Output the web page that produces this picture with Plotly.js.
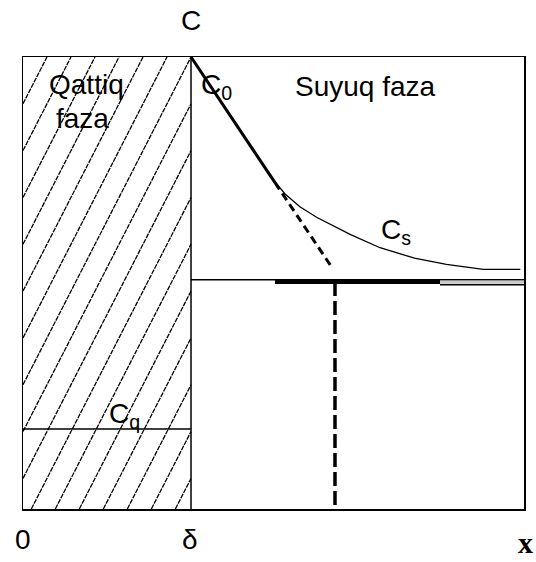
<!DOCTYPE html>
<html>
<head>
<meta charset="utf-8">
<script src="https://cdn.plot.ly/plotly-3.0.1.min.js"></script>
<style>
  html, body { margin: 0; padding: 0; background: #fff; }
  #chart { width: 536px; height: 562px; }
</style>
</head>
<body>
<div id="chart"></div>
<script>
// Concentration profile near the solid/liquid boundary.
// x: distance (boundary layer thickness delta = 1), y: concentration (C0 = 1).
const delta = 1;
const xMax = 2.982;

// Cs curve in the liquid phase
const csX = [1.00, 1.25, 1.47, 1.56, 1.65, 1.75, 1.95, 2.125, 2.33, 2.52, 2.74, 2.96];
const csY = [1.000, 0.862, 0.737, 0.697, 0.668, 0.645, 0.607, 0.578, 0.555, 0.541, 0.530, 0.530];

// Tangent at the boundary (solid part, then dashed)
const tangentSolidX = [1.00, 1.50];
const tangentSolidY = [1.000, 0.722];
const tangentDashX = [1.50, 1.845];
const tangentDashY = [0.722, 0.531];

// Bulk concentration level and its marked segments
const bulkLevel = 0.507;
const bulkThickX = [1.50, 2.482];
const bulkThickY = [0.502, 0.502];
const bulkLowerX = [2.482, xMax];
const bulkLowerY = [0.496, 0.496];

// Vertical projection of the tangent crossing
const projX = [1.857, 1.857];
const projY = [0.502, 0.0];

// Cq level inside the solid phase
const cqLevel = 0.177;

const line = (x, y, width, dash, color) => ({
  type: 'scatter', mode: 'lines', x, y, hoverinfo: 'skip', showlegend: false,
  line: { color: color || '#000', width, dash: dash || 'solid' }
});

// Hatching of the solid phase: parallel slanted lines clipped to [0, delta] x [0, 1]
const hatchSlope = 0.725;     // dy/dx in data units
const hatchStep = 0.1429;     // spacing along the top edge
const hatchTraces = [];
for (let k = -12; k < 12; k++) {
  const xt = delta - k * hatchStep;     // where the line meets y = 1 (extended)
  // y = 1 + slope * (x - xt)
  const x0 = Math.max(0, xt - 1 / hatchSlope);
  const x1 = Math.min(delta, xt);
  if (x1 - x0 < 1e-6) continue;
  const y0 = 1 + hatchSlope * (x0 - xt);
  const y1 = 1 + hatchSlope * (x1 - xt);
  hatchTraces.push(line([x0, x1], [y0, y1], 1.3, '5px,1px', '#000'));
}

const traces = [
  ...hatchTraces,
  line([0, delta], [cqLevel, cqLevel], 1.5),
  line([delta, delta], [0, 1], 1.5),
  line([delta, xMax], [bulkLevel, bulkLevel], 1.5),
  line(bulkLowerX, [0.5015, 0.5015], 3, 'solid', '#c8c8c8'),
  line(bulkLowerX, bulkLowerY, 1.5),
  line(bulkThickX, bulkThickY, 4),
  line(csX, csY, 1.3),
  line(tangentSolidX, tangentSolidY, 3),
  line(tangentDashX, tangentDashY, 3, '8px,5px'),
  line(projX, projY, 3.5, '14px,5px')
];

const font = { family: 'Liberation Sans, Arial, sans-serif', size: 28, color: '#000' };
const narrow = Object.assign({}, font, { family: 'Liberation Sans Narrow, Liberation Sans, sans-serif' });
// Labels are placed in paper coordinates so the ones outside the frame stay visible
const ann = (text, x, y, xanchor, f) => ({
  text, x: x / xMax, y, xref: 'paper', yref: 'paper', showarrow: false,
  xanchor: xanchor || 'center', yanchor: 'middle', font: f || font
});

const annotations = [
  ann('C', 1.0, 1.08),
  ann('C<sub>0</sub>', 1.05, 0.935, 'left'),
  ann('Suyuq faza', 2.036, 0.935),
  ann('Qattiq', 0.375, 0.94),
  ann('faza', 0.357, 0.865),
  ann('C<sub>s</sub>', 2.12, 0.613, 'left'),
  ann('C<sub>q</sub>', 0.5, 0.207, 'left'),
  ann('0', 0.0, -0.068, 'center', narrow),
  ann('δ', 0.994, -0.068, 'center', narrow),
  ann('<b>x</b>', 2.988, -0.075, 'center', Object.assign({}, font, { family: 'Liberation Serif, serif', size: 30 }))
];

const axisBase = {
  showgrid: false, zeroline: false, showticklabels: false, ticks: '',
  showline: true, mirror: true, linecolor: '#000', linewidth: 1.5, fixedrange: true
};

const layout = {
  width: 536, height: 562,
  margin: { l: 23, r: 12, t: 57, b: 53, pad: 0 },
  paper_bgcolor: '#fff', plot_bgcolor: '#fff',
  xaxis: Object.assign({}, axisBase, { range: [0, xMax] }),
  yaxis: Object.assign({}, axisBase, { range: [0, 1] }),
  annotations,
  showlegend: false
};

Plotly.newPlot('chart', traces, layout, { displayModeBar: false, staticPlot: true });
</script>
</body>
</html>
